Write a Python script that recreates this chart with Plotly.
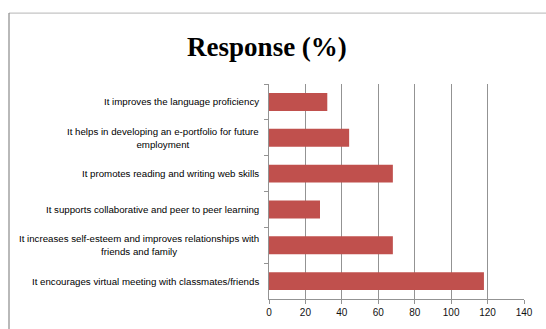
import plotly.graph_objects as go

# Survey statements (top to bottom as shown) and share of responses
statements = [
    "It improves the language proficiency",
    "It helps in developing an e-portfolio for future<br>employment",
    "It promotes reading and writing web skills",
    "It supports collaborative and peer to peer learning",
    "It increases self-esteem and improves relationships with<br>friends and family",
    "It encourages virtual meeting with classmates/friends",
]
responses = [32, 44, 68, 28, 68, 118]
x_ticks = [0, 20, 40, 60, 80, 100, 120, 140]

bar_color = "#C0504D"
grid_color = "#939393"
label_font = dict(family="Liberation Sans", size=9.7, color="#000000")

fig = go.Figure(
    go.Bar(
        x=responses,
        y=statements,
        orientation="h",
        marker=dict(color=bar_color, line=dict(width=0)),
        hoverinfo="x+y",
    )
)

# Category labels drawn as centred multi-line text to the left of the axis
annotations = [
    dict(
        x=0, y=s, xref="paper", yref="y",
        text=s, showarrow=False, xanchor="right", yanchor="middle",
        align="center", xshift=-8, font=label_font,
    )
    for s in statements
]

fig.update_layout(
    width=546,
    height=329,
    margin=dict(l=269, r=22, t=84, b=30),
    paper_bgcolor="white",
    plot_bgcolor="white",
    bargap=0.5,
    showlegend=False,
    title=dict(
        text="<b>Response (%)</b>",
        x=0.489, xanchor="center",
        y=0.857, yanchor="middle",
        font=dict(family="Liberation Serif", size=27, color="black"),
    ),
    annotations=annotations,
    xaxis=dict(
        range=[0, 140],
        tickvals=x_ticks,
        showgrid=True,
        gridcolor=grid_color,
        gridwidth=1.3,
        zeroline=False,
        showline=True,
        linecolor=grid_color,
        linewidth=1.3,
        ticks="outside",
        ticklen=4,
        tickcolor=grid_color,
        tickfont=dict(family="Liberation Sans", size=10, color="#111111"),
        fixedrange=True,
    ),
    yaxis=dict(
        autorange="reversed",
        showticklabels=False,
        showgrid=False,
        showline=True,
        linecolor=grid_color,
        linewidth=1.3,
        ticks="outside",
        tickson="boundaries",
        ticklen=4,
        tickcolor=grid_color,
        fixedrange=True,
    ),
    shapes=[
        # Outer chart frame: light top edge, darker left edge
        dict(
            type="line", xref="paper", yref="paper",
            x0=-1.0196, x1=1.3, y0=1.33, y1=1.33,
            line=dict(color="#c4c4c4", width=1.2),
        ),
        dict(
            type="line", xref="paper", yref="paper",
            x0=-1.0196, x1=-1.0196, y0=1.33, y1=-0.3,
            line=dict(color="#8a8a8a", width=1.2),
        ),
    ],
)

fig.write_html("out.html")
